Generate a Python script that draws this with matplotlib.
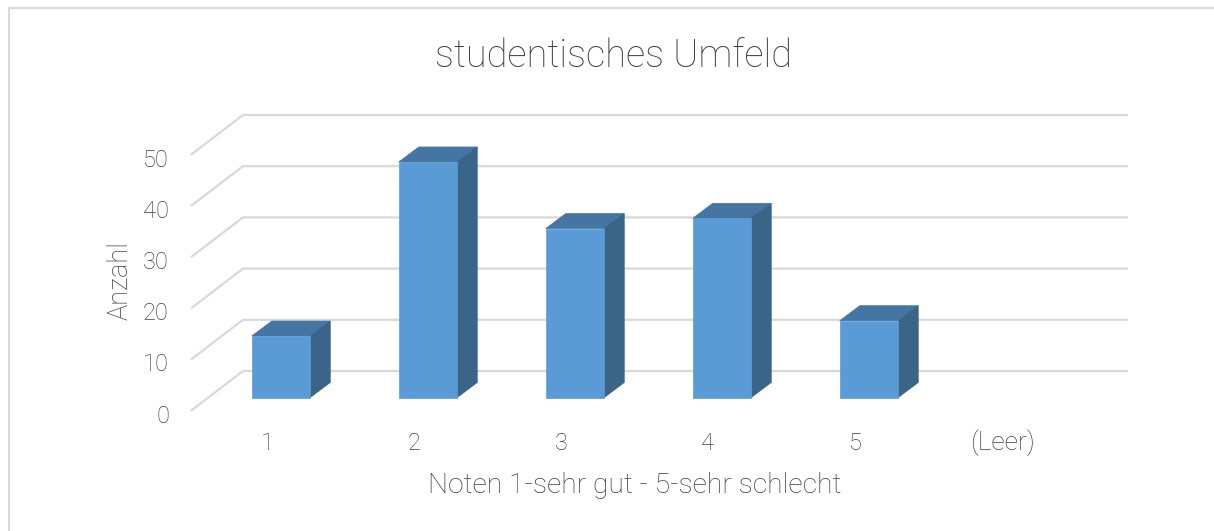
import matplotlib
matplotlib.use("Agg")
import matplotlib.pyplot as plt
from matplotlib.patches import Polygon

# Data
categories = ["1", "2", "3", "4", "5", "(Leer)"]
values = [12, 46, 33, 35, 15, 0]
y_ticks = [0, 10, 20, 30, 40, 50]

plt.rcParams['font.family'] = ['Roboto', 'DejaVu Sans']
plt.rcParams['font.weight'] = 'light'
TEXT = '#404040'
GRID = '#d9d9d9'

W, H = 1214, 531
fig = plt.figure(figsize=(W / 100, H / 100), dpi=100)

# one axes over the whole figure, scaled so that 1 category = 147 px, 1 count = 5.12 px
ax = fig.add_axes([0, 0, 1, 1])
sx, sy = 147.0, 5.12
x0, y0 = 281.0, 397.5
ax.set_xlim((0 - x0) / sx, (W - x0) / sx)
ax.set_ylim((y0 - H) / sy, y0 / sy)
ax.axis('off')

bar_w = 58.5 / sx
depth_x, depth_y = 20 / sx, 15 / sy       # bar depth
wall_x, wall_y = 51 / sx, 39 / sy         # floor depth
wall_v0 = -12.5 / sy                      # front edge of floor, value 0
wall_left = (192 - x0) / sx
wall_right = (1127 - x0) / sx

# frame
ax.plot([(9 - x0) / sx, (9 - x0) / sx, (1214 - x0) / sx],
        [(y0 - 531) / sy, (y0 - 7.5) / sy, (y0 - 7.5) / sy], color=GRID, lw=1.5)

# gridlines on side wall and back wall
for t in y_ticks:
    yf = t + wall_v0
    ax.plot([wall_left, wall_left + wall_x, wall_right], [yf, yf + wall_y, yf + wall_y],
            color=GRID, lw=1.6, solid_joinstyle='miter', zorder=1)
    ax.text((169 - x0) / sx, yf - 1.2, str(t), color=TEXT, fontsize=17, ha='right', va='center')

# bars
xs = list(range(len(categories)))
for x, v in zip(xs, values):
    if v == 0:
        continue
    l, r = x - bar_w / 2, x + bar_w / 2
    ax.add_patch(Polygon([(l, v), (l + depth_x, v + depth_y), (r + depth_x, v + depth_y), (r, v)],
                         fc='#4475a3', ec='#4475a3', lw=0.5, zorder=3))
    ax.add_patch(Polygon([(r, 0), (r + depth_x, depth_y), (r + depth_x, v + depth_y), (r, v)],
                         fc='#3a6488', ec='#3a6488', lw=0.5, zorder=3))
    ax.bar(x, v, width=bar_w, color='#5b9bd5', edgecolor='#5b9bd5', linewidth=0.5, zorder=4)

# category labels
for x, c in zip(xs, categories):
    size = 19 if c == "(Leer)" else 17
    ax.text(x - 14 / sx, (y0 - 443) / sy, c, color=TEXT, fontsize=size, ha='center', va='center')

ax.text((120 - x0) / sx, (y0 - 281) / sy, "Anzahl", color=TEXT, fontsize=19.5, rotation=90,
        ha='center', va='center')
ax.text((634.5 - x0) / sx, (y0 - 493) / sy, "Noten 1-sehr gut - 5-sehr schlecht", color=TEXT,
        fontsize=20.3, ha='center', va='baseline')
ax.text((613.5 - x0) / sx, (y0 - 67) / sy, "studentisches Umfeld", color=TEXT, fontsize=27.4,
        ha='center', va='baseline')

fig.savefig("out.png", dpi=100)
